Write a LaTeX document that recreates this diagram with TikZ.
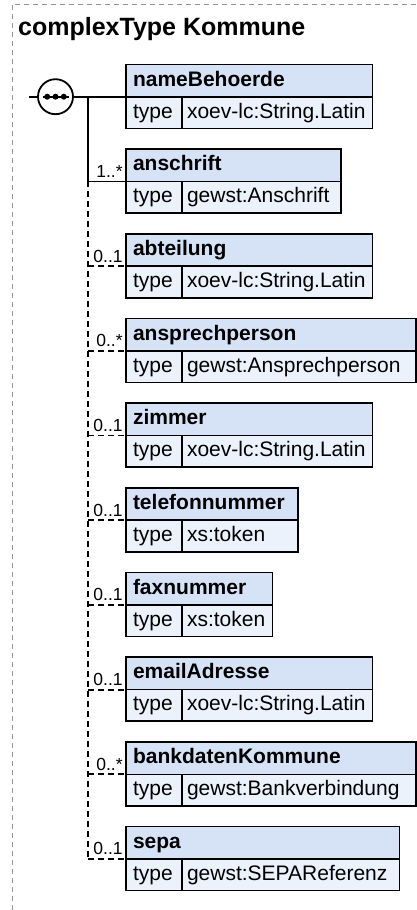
\documentclass[tikz,border=0pt]{standalone}
\usepackage{xcolor}
\usepackage{tikz}
\usepackage{fontspec}
\setmainfont{Liberation Sans}
\usetikzlibrary{positioning}

\definecolor{headblue}{RGB}{214,227,247}
\definecolor{rowblue}{RGB}{236,242,252}
\definecolor{framegray}{RGB}{150,150,150}

\begin{document}
\begin{tikzpicture}[x = 1pt, y = -1pt,
                        head/.style = {draw, fill = headblue, line width = 1.6pt, outer sep = 0pt, anchor = north west, inner xsep = 7pt, inner ysep = 0pt, minimum height = 32.4pt, text height = 15pt, text depth = 4pt, text width = #1, align = left, font = \fontsize{21}{25}\selectfont\bfseries},
                        key/.style = {draw, fill = rowblue, line width = 1.6pt, outer sep = 0pt, inner xsep = 7pt, inner ysep = 0pt, minimum height = 31.6pt, text height = 15pt, text depth = 4pt, text width = 42pt, align = left, font = \fontsize{21}{25}\selectfont},
                        val/.style = {key, inner xsep = 5pt, text width = #1},
                        wire/.style = {line width = 1.8pt},
                        opt/.style = {wire, dash pattern = on 6pt off 4pt},
                        card/.style = {pos = 1, anchor = south east, inner xsep = 2.5pt, inner ysep = 3pt, font = \fontsize{17.5}{20}\selectfont}]
                        \useasboundingbox (0, 0) rectangle (417, 910);
                        \draw[framegray, line width = 1pt, dash pattern = on 5pt off 4pt] (12, 910) -- (12, 4) -- (417, 4);
                        \node (title) at (18, 35.5) [anchor = base west, inner sep = 0pt, font = \fontsize{25}{30}\selectfont\bfseries] {complexType Kommune};

                        \node (h1) at (126, 64.3) [head = 232.3pt] {nameBehoerde};
                        \node (k1) [key, below right = 0pt and 0pt of h1.south west] {type};
                        \node (v1) [val = 180.3pt, right = 0pt of k1] {xoev-lc:String.Latin};

                        \node (h2) at (126, 149.0) [head = 200.7pt] {anschrift};
                        \node (k2) [key, below right = 0pt and 0pt of h2.south west] {type};
                        \node (v2) [val = 148.7pt, right = 0pt of k2] {gewst:Anschrift};

                        \node (h3) at (126, 233.7) [head = 232.3pt] {abteilung};
                        \node (k3) [key, below right = 0pt and 0pt of h3.south west] {type};
                        \node (v3) [val = 180.3pt, right = 0pt of k3] {xoev-lc:String.Latin};

                        \node (h4) at (126, 318.4) [head = 275.7pt] {ansprechperson};
                        \node (k4) [key, below right = 0pt and 0pt of h4.south west] {type};
                        \node (v4) [val = 223.7pt, right = 0pt of k4] {gewst:Ansprechperson};

                        \node (h5) at (126, 403.1) [head = 232.3pt] {zimmer};
                        \node (k5) [key, below right = 0pt and 0pt of h5.south west] {type};
                        \node (v5) [val = 180.3pt, right = 0pt of k5] {xoev-lc:String.Latin};

                        \node (h6) at (126, 487.8) [head = 157.7pt] {telefonnummer};
                        \node (k6) [key, below right = 0pt and 0pt of h6.south west] {type};
                        \node (v6) [val = 105.7pt, right = 0pt of k6] {xs:token};

                        \node (h7) at (126, 572.5) [head = 132.3pt] {faxnummer};
                        \node (k7) [key, below right = 0pt and 0pt of h7.south west] {type};
                        \node (v7) [val = 80.3pt, right = 0pt of k7] {xs:token};

                        \node (h8) at (126, 657.2) [head = 232.3pt] {emailAdresse};
                        \node (k8) [key, below right = 0pt and 0pt of h8.south west] {type};
                        \node (v8) [val = 180.3pt, right = 0pt of k8] {xoev-lc:String.Latin};

                        \node (h9) at (126, 741.9) [head = 275.7pt] {bankdatenKommune};
                        \node (k9) [key, below right = 0pt and 0pt of h9.south west] {type};
                        \node (v9) [val = 223.7pt, right = 0pt of k9] {gewst:Bankverbindung};

                        \node (h10) at (126, 826.6) [head = 259.3pt] {sepa};
                        \node (k10) [key, below right = 0pt and 0pt of h10.south west] {type};
                        \node (v10) [val = 207.3pt, right = 0pt of k10] {gewst:SEPAReferenz};

                        \coordinate (in) at (29, 96.7);
                        \coordinate (j1) at (88, 96.7);
                        \coordinate (j2) at (h2.south west -| j1);
                        \coordinate (j3) at (h3.south west -| j1);
                        \coordinate (j4) at (h4.south west -| j1);
                        \coordinate (j5) at (h5.south west -| j1);
                        \coordinate (j6) at (h6.south west -| j1);
                        \coordinate (j7) at (h7.south west -| j1);
                        \coordinate (j8) at (h8.south west -| j1);
                        \coordinate (j9) at (h9.south west -| j1);
                        \coordinate (j10) at (h10.south west -| j1);

                        \node (seq) at (55.5, 96.7) [circle, draw, fill = white, line width = 1.8pt, minimum size = 35pt, inner sep = 0pt] {};
                        \draw[wire] ([xshift = -13pt] seq.center) -- ([xshift = 13pt] seq.center);
                        \fill ([xshift = -8.3pt] seq.center) circle (3);
                        \fill (seq.center) circle (3);
                        \fill ([xshift = 8.3pt] seq.center) circle (3);

                        \draw[wire] (in) -- (seq);
                        \draw[wire] (seq) -- (h1.south west);
                        \draw[wire] (j1) -- (j2);
                        \draw[opt] (j2) -- (j10);

                        \draw[wire] (j2) -- node [card] {1..*} (h2.south west);
                        \draw[opt] (j3) -- node [card] {0..1} (h3.south west);
                        \draw[opt] (j4) -- node [card] {0..*} (h4.south west);
                        \draw[opt] (j5) -- node [card] {0..1} (h5.south west);
                        \draw[opt] (j6) -- node [card] {0..1} (h6.south west);
                        \draw[opt] (j7) -- node [card] {0..1} (h7.south west);
                        \draw[opt] (j8) -- node [card] {0..1} (h8.south west);
                        \draw[opt] (j9) -- node [card] {0..*} (h9.south west);
                        \draw[opt] (j10) -- node [card] {0..1} (h10.south west);
\end{tikzpicture}
\end{document}
